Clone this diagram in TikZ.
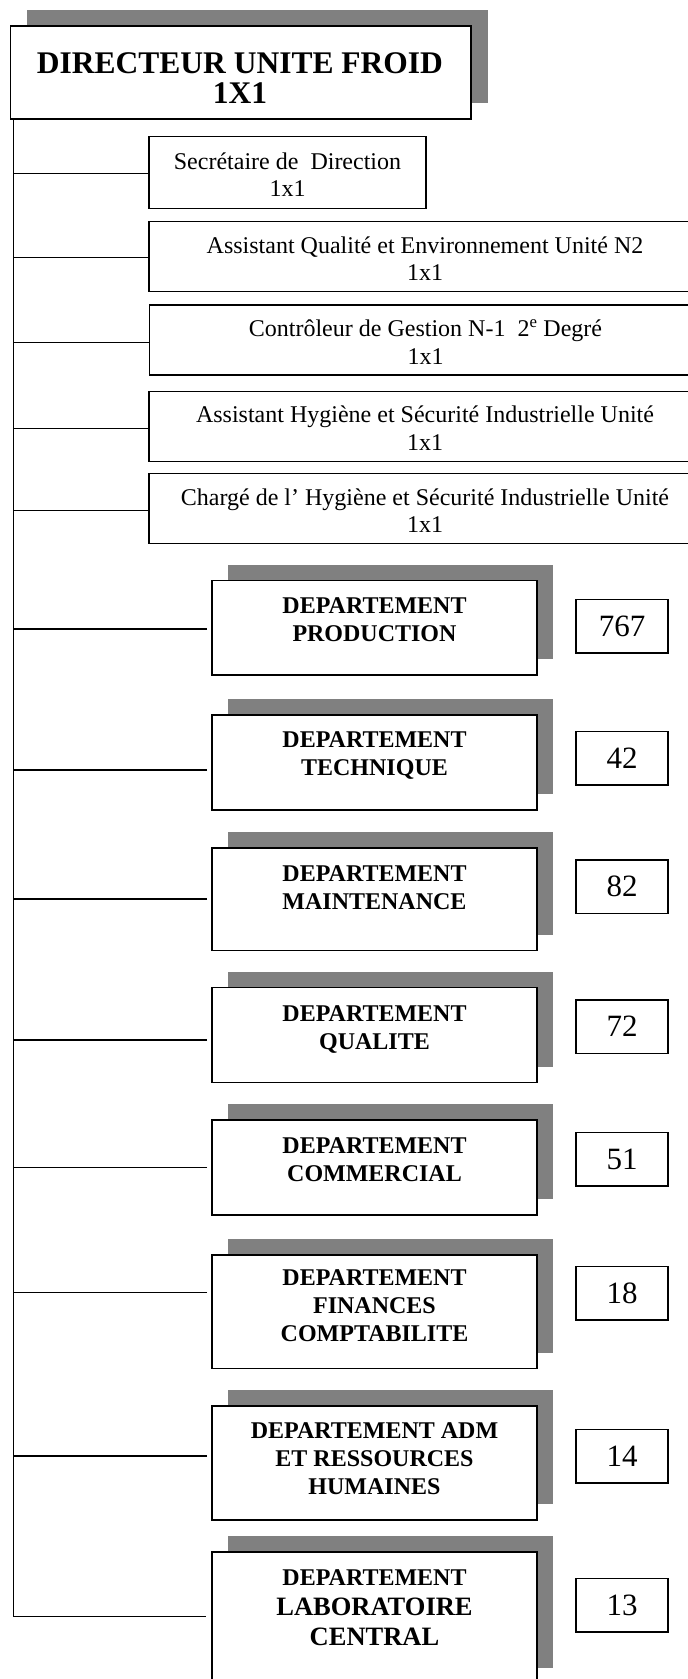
\documentclass[tikz,border=0pt]{standalone}
\usepackage{fontspec}
\setmainfont{Liberation Serif}
\usetikzlibrary{shadows,calc}
\definecolor{shadowgray}{RGB}{128,128,128}
\begin{document}
\begin{tikzpicture}[x=1pt,y=-1pt,
  rulebox/.style={draw, line width=1.6pt, fill=white, inner sep=0pt},
  titlebox/.style={rulebox, general shadow={fill=shadowgray, shadow xshift=16.8pt, shadow yshift=16pt},
                   minimum width=460.4pt, minimum height=93.4pt},
  staffbox/.style={rulebox, minimum width=552.4pt, minimum height=70pt},
  deptbox/.style={rulebox, general shadow={fill=shadowgray, shadow xshift=16pt, shadow yshift=16pt},
                  minimum width=325.4pt},
  countbox/.style={draw, line width=1.4pt, minimum width=92.1pt, minimum height=53.6pt, inner sep=0pt,
                   font=\fontsize{31}{36}\selectfont},
  conn/.style={line width=1.4pt},
  lbl/.style={anchor=base, inner sep=0pt},
  small/.style={font=\fontsize{24}{27.5}\selectfont},
  dept/.style={font=\fontsize{24}{28}\selectfont\bfseries}
]
\useasboundingbox (0,0) rectangle (688,1679);
\clip (0,0) rectangle (688,1679);

% title
\node[titlebox] (title) at (240.8,72.5) {};
\node[lbl, font=\fontsize{31.5}{30}\selectfont\bfseries] (titletext) at (240,73)
  {\begin{tabular}[t]{@{}c@{}}DIRECTEUR UNITE FROID\\1X1\end{tabular}};

% staff boxes
\node[rulebox, minimum width=277.4pt, minimum height=72pt] (sec) at (287.5,172.5) {};
\node[lbl, small] (sectext) at (287.5,169.3)
  {\begin{tabular}[t]{@{}c@{}}Secrétaire de\ \ Direction\\1x1\end{tabular}};

\node[staffbox] (aqe) at (425,256.5) {};
\node[lbl, small] (aqetext) at (425,253.3)
  {\begin{tabular}[t]{@{}c@{}}Assistant Qualité et Environnement Unité N2\\1x1\end{tabular}};

\node[staffbox] (cdg) at (425.5,340.2) {};
\node[lbl, small] (cdgtext) at (425.5,336.7)
  {\begin{tabular}[t]{@{}c@{}}Contrôleur de Gestion N-1\ \ 2\textsuperscript{e} Degré\\1x1\end{tabular}};

\node[staffbox] (ahs) at (425,426.5) {};
\node[lbl, small] (ahstext) at (425,422.7)
  {\begin{tabular}[t]{@{}c@{}}Assistant Hygiène et Sécurité Industrielle Unité\\1x1\end{tabular}};

\node[staffbox] (chs) at (425,508.5) {};
\node[lbl, small] (chstext) at (425,505)
  {\begin{tabular}[t]{@{}c@{}}Chargé de l’ Hygiène et Sécurité Industrielle Unité\\1x1\end{tabular}};

% departments
\node[deptbox, minimum height=94.7pt] (prod) at (374.5,627.85) {};
\node[lbl, dept] (prodtext) at (374.5,613.3)
  {\begin{tabular}[t]{@{}c@{}}DEPARTEMENT\\PRODUCTION\end{tabular}};
\node[countbox] (prodn) at (622,626.2) {767};

\node[deptbox, minimum height=95.1pt] (tech) at (374.5,762.65) {};
\node[lbl, dept] (techtext) at (374.5,747.7)
  {\begin{tabular}[t]{@{}c@{}}DEPARTEMENT\\TECHNIQUE\end{tabular}};
\node[countbox] (techn) at (622,758.2) {42};

\node[deptbox, minimum height=102.4pt] (maint) at (374.5,899.3) {};
\node[lbl, dept] (mainttext) at (374.5,881)
  {\begin{tabular}[t]{@{}c@{}}DEPARTEMENT\\MAINTENANCE\end{tabular}};
\node[countbox] (maintn) at (622,886.8) {82};

\node[deptbox, minimum height=95pt] (qual) at (374.5,1035) {};
\node[lbl, dept] (qualtext) at (374.5,1021)
  {\begin{tabular}[t]{@{}c@{}}DEPARTEMENT\\QUALITE\end{tabular}};
\node[countbox] (qualn) at (622,1026.65) {72};

\node[deptbox, minimum height=95.1pt] (comm) at (374.5,1167.65) {};
\node[lbl, dept] (commtext) at (374.5,1153.3)
  {\begin{tabular}[t]{@{}c@{}}DEPARTEMENT\\COMMERCIAL\end{tabular}};
\node[countbox] (commn) at (622,1159.2) {51};

\node[deptbox, minimum height=113.7pt] (fin) at (374.5,1311.65) {};
\node[lbl, dept] (fintext) at (374.5,1285.7)
  {\begin{tabular}[t]{@{}c@{}}DEPARTEMENT\\FINANCES\\COMPTABILITE\end{tabular}};
\node[countbox] (finn) at (622,1293.2) {18};

\node[deptbox, minimum height=114.1pt] (adm) at (374.5,1463.15) {};
\node[lbl, dept] (admtext) at (374.5,1438.3)
  {\begin{tabular}[t]{@{}c@{}}DEPARTEMENT ADM\\ET RESSOURCES\\HUMAINES\end{tabular}};
\node[countbox] (admn) at (622,1456) {14};

\node[deptbox, minimum height=132pt] (lab) at (374.5,1618.15) {};
\node[lbl, font=\fontsize{24}{30}\selectfont\bfseries] (labtext) at (374.5,1585)
  {\begin{tabular}[t]{@{}c@{}}DEPARTEMENT\\{\fontsize{26.5}{30}\selectfont LABORATOIRE}\\{\fontsize{26.5}{30}\selectfont CENTRAL}\end{tabular}};
\node[countbox] (labn) at (622,1605.35) {13};

% connectors
\coordinate (spine) at (13.5,0);
\foreach \n/\d in {sec/0.8, aqe/1.2, cdg/2.1, ahs/1.8, chs/2.2}{
  \path (\n.west) ++(0,\d) coordinate (cp);
  \draw[conn] (cp) -- (cp -| spine);
}
\foreach \n/\d in {prod/1.15, tech/7.35, maint/-0.3, qual/5, comm/-0.35, fin/-19.35, adm/-7.15}{
  \path (\n.west) ++(0,\d) coordinate (cp);
  \draw[conn, shorten <=4pt] (cp) -- (cp -| spine);
}
\path (lab.west) ++(0,-1.45) coordinate (cplab);
\draw[conn, shorten >=5pt] (title.south -| spine) -- (cplab -| spine) -- (cplab);
\end{tikzpicture}
\end{document}
